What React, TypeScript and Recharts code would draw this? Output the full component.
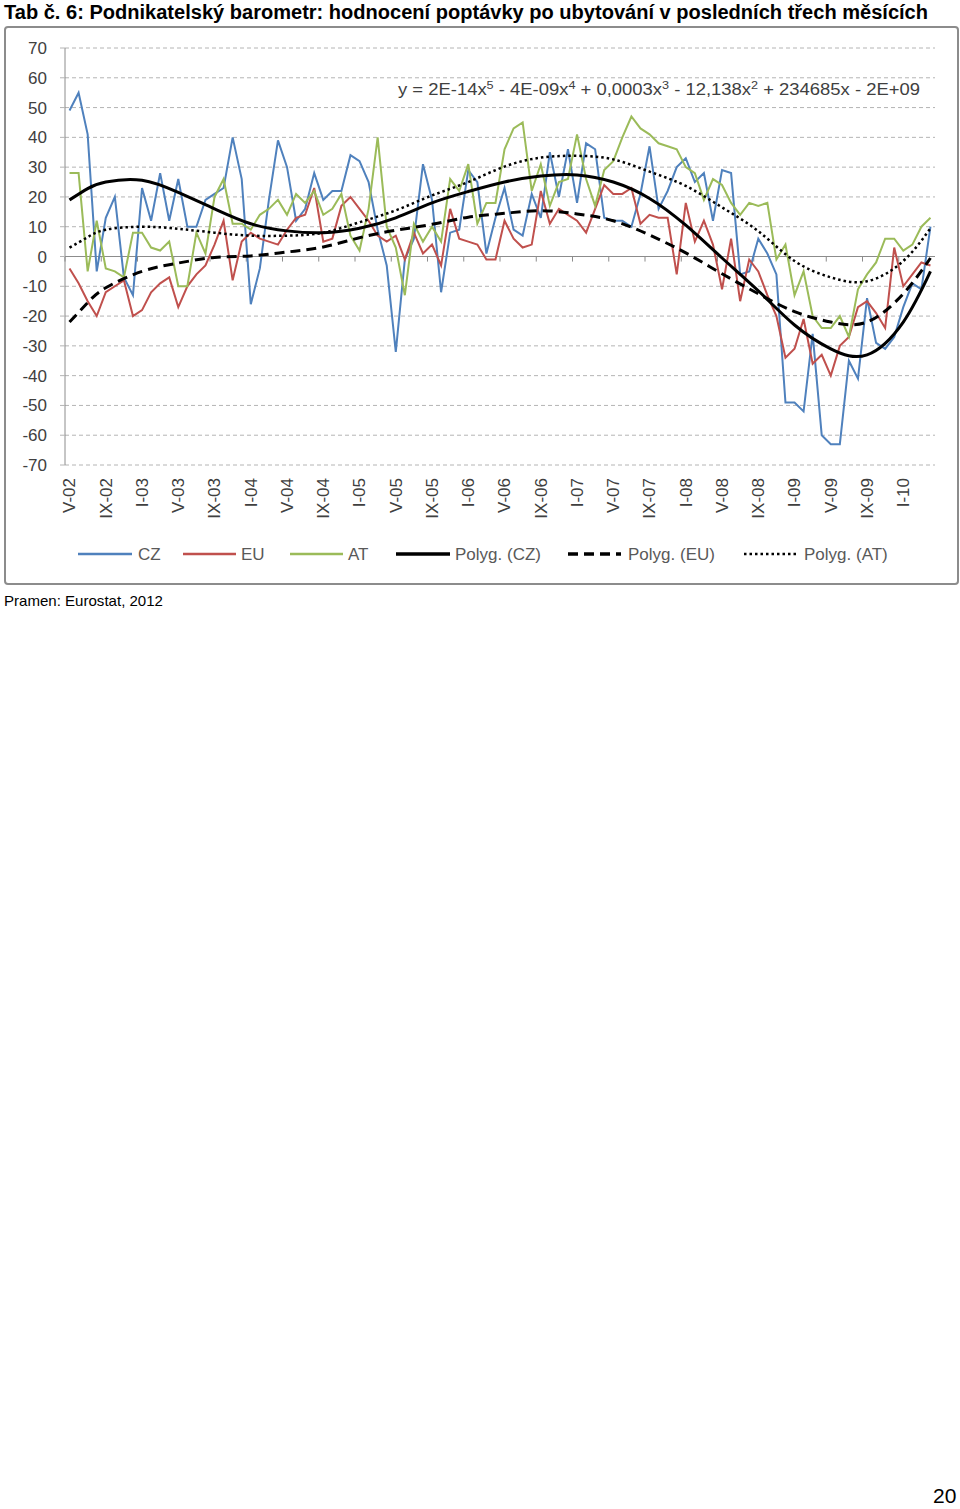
import { LineChart, Line, XAxis, YAxis, CartesianGrid, ReferenceLine } from "recharts";

// month index 0 = V-02 (May 2002) ... 95 = IV-10
const CZ = [
  49, 55, 41, -5, 13, 20, -7, -13, 23, 12, 28, 12, 26, 10, 10, 19, 21, 23, 40, 26, -16, -4, 19, 39,
  30, 12, 16, 28, 19, 22, 22, 34, 32, 25, 9, -3, -32, -1, 6, 31, 19, -12, 8, 9, 29, 25, 1, 13,
  23, 9, 7, 21, 13, 35, 20, 36, 18, 38, 36, 13, 12, 12, 10, 21, 37, 16, 22, 30, 33, 25, 28, 12,
  29, 28, -6, -5, 6, 1, -6, -49, -49, -52, -26, -60, -63, -63, -35, -41, -14, -29, -31, -27, -17, -9, -11, 10,
];
const EU = [
  -4, -9, -15, -20, -12, -10, -8, -20, -18, -12, -9, -7, -17, -10, -6, -3, 4, 12, -8, 5, 8, 6, 5, 4,
  9, 13, 14, 23, 5, 6, 17, 20, 16, 12, 7, 5, 7, -1, 8, 1, 4, -3, 16, 6, 5, 4, -1, -1,
  12, 6, 3, 4, 22, 11, 16, 14, 12, 8, 16, 24, 21, 21, 23, 11, 14, 13, 13, -6, 18, 5, 12, 4,
  -11, 6, -15, -1, -5, -13, -20, -34, -31, -21, -36, -33, -40, -30, -27, -17, -15, -19, -24, 3, -10, -6, -2, -3,
];
const AT = [
  28, 28, -5, 12, -4, -5, -7, 8, 8, 3, 2, 5, -10, -10, 8, 1, 20, 26, 11, 11, 9, 14, 16, 19,
  14, 21, 18, 22, 14, 16, 21, 7, 2, 16, 40, 10, 3, -13, 11, 5, 10, 5, 26, 22, 31, 11, 18, 18,
  36, 43, 45, 22, 31, 17, 25, 26, 41, 26, 17, 29, 32, 40, 47, 43, 41, 38, 37, 36, 30, 28, 19, 26,
  24, 18, 14, 18, 17, 18, -1, 4, -13, -5, -20, -24, -24, -20, -27, -11, -6, -2, 6, 6, 2, 4, 10, 13,
];

// polynomial trendlines at a few months
const TREND_IDX = [0, 2, 4, 8, 12, 16, 20, 24, 28, 32, 36, 40, 44, 48, 52, 56, 60, 64, 68, 72, 76, 80, 84, 88, 92, 95];
const CZ_TREND = [19, 22.8, 25, 25.6, 21.5, 16, 11, 8.6, 8, 9.5, 13, 18, 21.8, 25, 27, 27.4, 25, 19.5, 10.5, -0.5, -11.5, -23, -31, -33, -22, -5];
const EU_TREND = [-22, -15.5, -10.5, -5, -2.2, -0.3, 0.2, 1.5, 3.2, 6.3, 8.8, 10.8, 13.2, 14.5, 15.4, 14.3, 12, 7.2, 1.2, -5.8, -12.5, -18.5, -22, -22, -12.5, -0.5];
const AT_TREND = [3, 6.5, 9, 10, 9.3, 8, 7, 7, 8, 11.5, 15.5, 20.5, 25, 30.2, 33.2, 33.8, 32.6, 28.5, 23.7, 16.5, 8.5, -1.5, -7, -8.3, -1.5, 9.5];

const TICK_IDX = [0, 4, 8, 12, 16, 20, 24, 28, 32, 36, 40, 44, 48, 52, 56, 60, 64, 68, 72, 76, 80, 84, 88, 92];
const TICK_LABELS = [
  "V-02", "IX-02", "I-03", "V-03", "IX-03", "I-04", "V-04", "IX-04", "I-05", "V-05", "IX-05", "I-06",
  "V-06", "IX-06", "I-07", "V-07", "IX-07", "I-08", "V-08", "IX-08", "I-09", "V-09", "IX-09", "I-10",
];
const Y_TICKS = [-70, -60, -50, -40, -30, -20, -10, 0, 10, 20, 30, 40, 50, 60, 70];

const C_CZ = "#4F81BD";
const C_EU = "#C0504D";
const C_AT = "#9BBB59";
const FONT = "'Liberation Sans', Arial, sans-serif";

const rows = CZ.map((v, i) => ({ i, cz: v, eu: EU[i], at: AT[i] }));
const trend = (vals: number[]) => TREND_IDX.map((i, k) => ({ i, v: vals[k] }));

function MonthTick({ x, y, payload }: any) {
  const label = TICK_LABELS[TICK_IDX.indexOf(payload.value)] ?? "";
  return (
    <text
      transform={`translate(${x},${y}) rotate(-90)`}
      textAnchor="end"
      dy="0.35em"
      fontSize={17}
      fontFamily={FONT}
      fill="#404040"
    >
      {label}
    </text>
  );
}

export default function App() {
  return (
    <div style={{ position: "relative", width: 960, height: 1509, background: "#fff" }}>
      <style>{"body{margin:0}"}</style>
      <div style={{ position: "absolute", left: 0, top: 0 }}>
        <LineChart width={960} height={600} margin={{ top: 48, right: 25, bottom: 75, left: 20 }}>
          <CartesianGrid vertical={false} stroke="#b4b4b4" strokeDasharray="4 3" />
          <XAxis
            type="number"
            dataKey="i"
            domain={[-0.5, 95.5]}
            ticks={TICK_IDX}
            interval={0}
            height={60}
            axisLine={false}
            tickLine={false}
            tickSize={0}
            tickMargin={13}
            tick={<MonthTick />}
          />
          <YAxis
            type="number"
            domain={[-70, 70]}
            ticks={Y_TICKS}
            interval={0}
            width={45}
            axisLine={{ stroke: "#8c8c8c" }}
            tickLine={{ stroke: "#b4b4b4" }}
            tickSize={5}
            tickMargin={13}
            tick={{ fontSize: 17, fontFamily: FONT, fill: "#404040" }}
          />
          <ReferenceLine y={0} stroke="#8c8c8c" strokeWidth={1} />
          {TICK_IDX.map((t) => (
            <ReferenceLine
              key={t}
              segment={[{ x: t - 0.5, y: 0 }, { x: t - 0.5, y: -1.7 }]}
              stroke="#8c8c8c"
            />
          ))}
          <Line data={rows} dataKey="cz" type="linear" stroke={C_CZ} strokeWidth={2} dot={false} isAnimationActive={false} />
          <Line data={rows} dataKey="eu" type="linear" stroke={C_EU} strokeWidth={2} dot={false} isAnimationActive={false} />
          <Line data={rows} dataKey="at" type="linear" stroke={C_AT} strokeWidth={2} dot={false} isAnimationActive={false} />
          <Line data={trend(CZ_TREND)} dataKey="v" type="natural" stroke="#000" strokeWidth={3} dot={false} isAnimationActive={false} />
          <Line data={trend(EU_TREND)} dataKey="v" type="natural" stroke="#000" strokeWidth={3} strokeDasharray="10 6" dot={false} isAnimationActive={false} />
          <Line data={trend(AT_TREND)} dataKey="v" type="natural" stroke="#000" strokeWidth={2.5} strokeDasharray="2.5 3" dot={false} isAnimationActive={false} />
        </LineChart>
      </div>
      <svg
        width={960}
        height={1509}
        style={{ position: "absolute", left: 0, top: 0, pointerEvents: "none" }}
        fontFamily={FONT}
      >
        <text x={4} y={19} fontSize={20} fontWeight="bold" fill="#000" textLength={924} lengthAdjust="spacingAndGlyphs">
          Tab č. 6: Podnikatelský barometr: hodnocení poptávky po ubytování v posledních třech měsících
        </text>
        <rect x={5} y={27} width={953} height={557} rx={3} fill="none" stroke="#8c8c8c" strokeWidth={2} />
        <text x={398} y={95} fontSize={16} fill="#404040" textLength={522} lengthAdjust="spacingAndGlyphs">
          y = 2E-14x<tspan dy={-6} fontSize={11}>5</tspan>
          <tspan dy={6}> - 4E-09x</tspan>
          <tspan dy={-6} fontSize={11}>4</tspan>
          <tspan dy={6}> + 0,0003x</tspan>
          <tspan dy={-6} fontSize={11}>3</tspan>
          <tspan dy={6}> - 12,138x</tspan>
          <tspan dy={-6} fontSize={11}>2</tspan>
          <tspan dy={6}> + 234685x - 2E+09</tspan>
        </text>
        <g fontSize={17} fill="#595959">
          <line x1={78} x2={132} y1={554} y2={554} stroke={C_CZ} strokeWidth={2.5} />
          <text x={138} y={560}>CZ</text>
          <line x1={183} x2={236} y1={554} y2={554} stroke={C_EU} strokeWidth={2.5} />
          <text x={241} y={560}>EU</text>
          <line x1={290} x2={343} y1={554} y2={554} stroke={C_AT} strokeWidth={2.5} />
          <text x={348} y={560}>AT</text>
          <line x1={396} x2={450} y1={554} y2={554} stroke="#000" strokeWidth={3.5} />
          <text x={455} y={560}>Polyg. (CZ)</text>
          <line x1={568} x2={621} y1={554} y2={554} stroke="#000" strokeWidth={3.5} strokeDasharray="10 6" />
          <text x={628} y={560}>Polyg. (EU)</text>
          <line x1={744} x2={796} y1={554} y2={554} stroke="#000" strokeWidth={2.5} strokeDasharray="2.5 3" />
          <text x={804} y={560}>Polyg. (AT)</text>
        </g>
        <text x={4} y={606} fontSize={15} fill="#000" textLength={159} lengthAdjust="spacingAndGlyphs">
          Pramen: Eurostat, 2012
        </text>
        <text x={933} y={1503} fontSize={21} fill="#000">20</text>
      </svg>
    </div>
  );
}
